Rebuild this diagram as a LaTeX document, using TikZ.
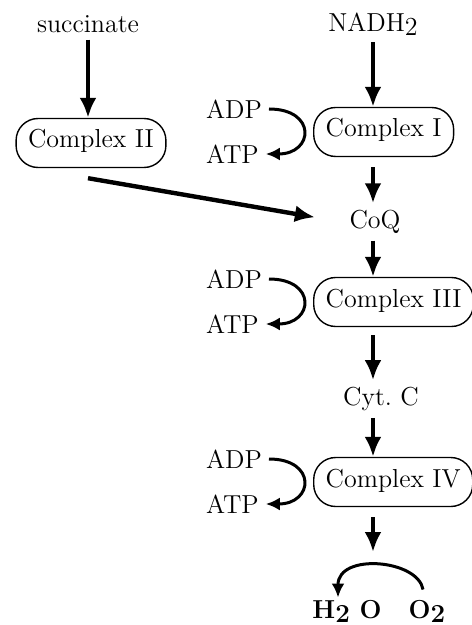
\documentclass[tikz,border=0pt]{standalone}
\usepackage{tikz}
\usetikzlibrary{arrows.meta}

\newcommand{\lowtwo}{\raisebox{-.35ex}{2}}

\tikzset{
  cplx/.style={draw, line width=.7pt, rounded corners=11pt, minimum height=24.5pt, inner xsep=6pt, text height=.7em, text depth=.2em},
  oxy/.style={font=\fontsize{13}{16}\selectfont\bfseries, inner sep=1pt},
  flowarrow/.style={line width=2.2pt, -{Latex[length=10pt,width=8.5pt]}},
  atpflow/.style={line width=1.5pt, -{Latex[length=7pt,width=6.5pt]}}
}

\begin{document}
\begin{tikzpicture}[x=.5pt,y=-.5pt,font=\fontsize{13}{16}\selectfont]
\useasboundingbox (0,0) rectangle (471,625);
% succinate branch
\node (succ) at (88,24) {succinate};
\node[cplx] (cplxII) at (91,143) {Complex II};
\draw[flowarrow] (succ.south) -- (succ.south |- cplxII.north);
% NADH chain
\node (nadh) at (373,24) {NADH\lowtwo};
\node (coq) at (375,222) {CoQ};
\node (cytc) at (381,399) {Cyt.\ C};
\foreach \k/\yy in {I/132,III/302,IV/482} {
  \node[cplx,anchor=west] (cplx\k) at (313,\yy) {Complex \k};
  \node[anchor=west] (adp\k) at (199,\yy-23) {ADP};
  \node[anchor=west] (atp\k) at (199,\yy+22) {ATP};
  \draw[atpflow] (adp\k.east) .. controls +(48,0) and +(48,0) .. (atp\k.east);
}
\draw[flowarrow] (nadh.south) -- (nadh.south |- cplxI.north);
\draw[flowarrow,shorten <=5pt] (cplxI.south -| nadh) -- (coq.north -| nadh);
\draw[flowarrow] (coq.south -| nadh) -- (cplxIII.north -| nadh);
\draw[flowarrow,shorten <=4pt] (cplxIII.south -| nadh) -- (cytc.north -| nadh);
\draw[flowarrow] (cytc.south -| nadh) -- (cplxIV.north -| nadh);
\draw[flowarrow,shorten >=14pt] ([yshift=-5pt]cplxII.south -| succ) -- (coq.west);
% oxygen
\node[oxy] (h2o) at (347,611) {H\lowtwo\ O};
\node[oxy] (o2) at (427,611) {O\lowtwo};
\coordinate (o2in) at (373,552);
\draw[flowarrow,shorten <=5pt] (cplxIV.south -| nadh) -- (o2in);
\draw[atpflow] ([xshift=-2pt,yshift=4pt]o2.north) .. controls +(-5,-30) and +(0,-45) .. ([xshift=-4.5pt]h2o.north);
\end{tikzpicture}
\end{document}
